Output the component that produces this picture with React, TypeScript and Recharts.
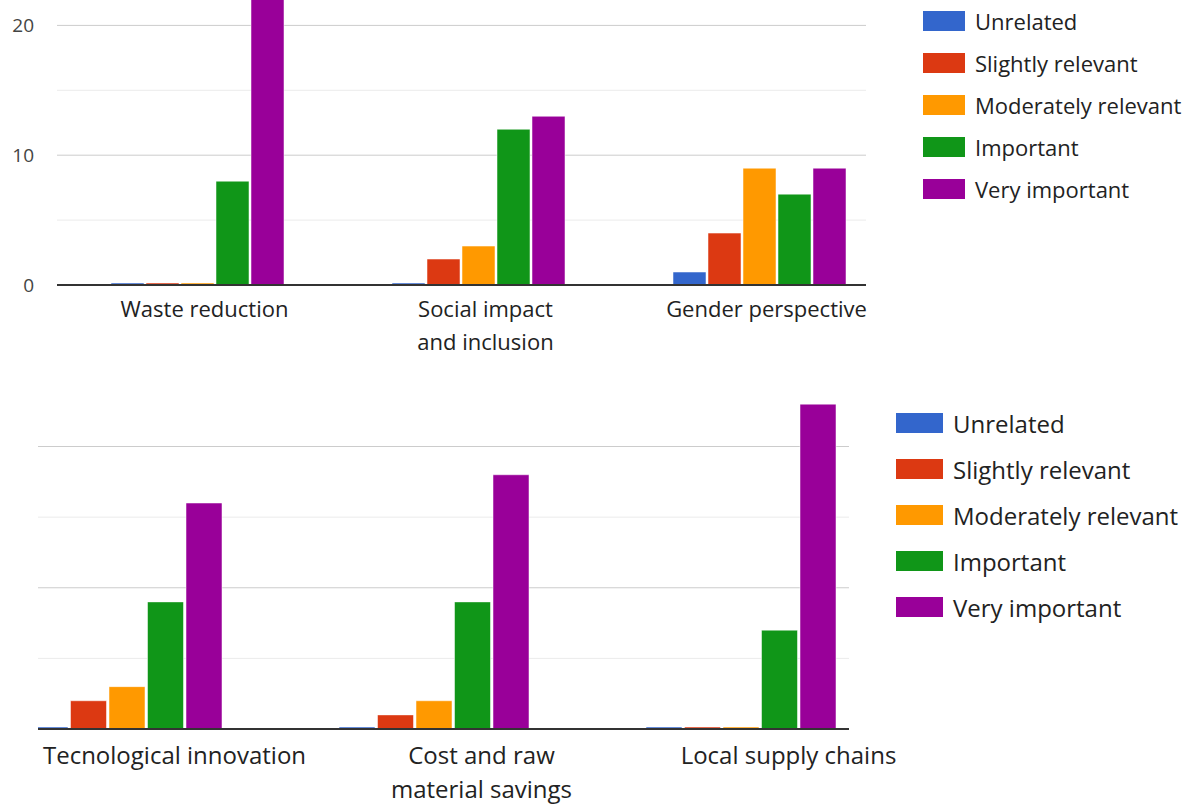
import { BarChart, Bar, XAxis, YAxis, CartesianGrid, Legend } from 'recharts';

// response levels shared by both charts
const levels = ['Unrelated', 'Slightly relevant', 'Moderately relevant', 'Important', 'Very important'];
const levelKeys = ['unrelated', 'slightly', 'moderately', 'important', 'veryImportant'];
const levelColors = ['#3366cc', '#dc3912', '#ff9900', '#109618', '#990099'];

// upper chart
const topCategories = ['Waste reduction', 'Social impact and inclusion', 'Gender perspective'];
const topTickLines = [['Waste reduction'], ['Social impact', 'and inclusion'], ['Gender perspective']];
const topUnrelated = [0, 0, 1];
const topSlightly = [0, 2, 4];
const topModerately = [0, 3, 9];
const topImportant = [8, 12, 7];
const topVeryImportant = [22, 13, 9];

// lower chart
const bottomCategories = ['Tecnological innovation', 'Cost and raw material savings', 'Local supply chains'];
const bottomTickLines = [['Tecnological innovation'], ['Cost and raw', 'material savings'], ['Local supply chains']];
const bottomUnrelated = [0, 0, 0];
const bottomSlightly = [2, 1, 0];
const bottomModerately = [3, 2, 0];
const bottomImportant = [9, 9, 7];
const bottomVeryImportant = [16, 18, 23];

const yTickLabels = [0, 10, 20];
const majorLines = [10, 20];
const minorLines = [5, 15];

const FONT = '"Open Sans", "DejaVu Sans", sans-serif';

const buildRows = (cats: string[], series: number[][]) =>
  cats.map((name, i) => {
    const row: Record<string, string | number> = { name };
    levelKeys.forEach((k, j) => {
      row[k] = series[j][i];
    });
    return row;
  });

const topData = buildRows(topCategories, [topUnrelated, topSlightly, topModerately, topImportant, topVeryImportant]);
const bottomData = buildRows(bottomCategories, [
  bottomUnrelated,
  bottomSlightly,
  bottomModerately,
  bottomImportant,
  bottomVeryImportant,
]);

const makeTick = (cats: string[], lines: string[][], dx: number, dy: number, fontSize: number, lineGap: number) =>
  (props: any) => {
    const { x, y, payload } = props;
    const idx = cats.indexOf(payload.value);
    const rows = idx >= 0 ? lines[idx] : [String(payload.value)];
    return (
      <text x={x + dx} y={y + dy} textAnchor="middle" fontFamily={FONT} fontSize={fontSize} fill="#222">
        {rows.map((r, i) => (
          <tspan key={i} x={x + dx} dy={i === 0 ? 0 : lineGap}>
            {r}
          </tspan>
        ))}
      </text>
    );
  };

// legend keeps the series order rather than the sorted payload
const makeLegend = (rowHeight: number, swatchW: number, padLeft: number, padTop: number, fontSize: number) => () => (
  <div
    style={{
      background: '#fff',
      width: '100%',
      height: '100%',
      boxSizing: 'border-box',
      paddingLeft: padLeft,
      paddingTop: padTop,
      fontFamily: FONT,
      fontSize,
      color: '#222',
    }}
  >
    {levels.map((label, i) => (
      <div key={label} style={{ height: rowHeight, display: 'flex', alignItems: 'center' }}>
        <span style={{ width: swatchW, height: 20, background: levelColors[i], marginRight: 10, flexShrink: 0 }} />
        <span style={{ whiteSpace: 'nowrap' }}>{label}</span>
      </div>
    ))}
  </div>
);

const renderBars = (barSize: number) =>
  levelKeys.map((k, i) => (
    <Bar
      key={k}
      dataKey={k}
      name={levels[i]}
      fill={levelColors[i]}
      stroke="#ffffff"
      strokeOpacity={0.5}
      strokeWidth={1}
      barSize={barSize}
      minPointSize={2}
      isAnimationActive={false}
    />
  ));

export default function App() {
  return (
    <div
      style={{
        position: 'fixed',
        left: 0,
        top: 0,
        width: 1197,
        height: 807,
        overflow: 'hidden',
        background: '#fff',
      }}
    >
      {/* upper chart, top edge runs above the page */}
      <div style={{ position: 'absolute', left: 0, top: -60 }}>
        <BarChart
          width={1197}
          height={420}
          data={topData}
          barGap={2}
          margin={{ top: 20.5, right: 297, left: 0, bottom: 0 }}
        >
          <CartesianGrid vertical={false} horizontalValues={minorLines} stroke="#ebebeb" />
          <CartesianGrid vertical={false} horizontalValues={majorLines} stroke="#cccccc" />
          <XAxis
            dataKey="name"
            interval={0}
            height={75}
            tickLine={false}
            tickSize={0}
            tickMargin={0}
            axisLine={{ stroke: '#333', strokeWidth: 2 }}
            tick={makeTick(topCategories, topTickLines, 7, 32, 22, 33)}
          />
          <YAxis
            type="number"
            domain={[0, 25]}
            ticks={yTickLabels}
            width={57}
            axisLine={false}
            tickLine={false}
            tickSize={0}
            tickMargin={23}
            tick={{ fontFamily: FONT, fontSize: 19, fill: '#444' }}
          />
          {renderBars(33)}
          <Legend
            layout="vertical"
            align="center"
            verticalAlign="middle"
            wrapperStyle={{ left: 866, top: 60, width: 331, height: 300, background: '#fff' }}
            content={makeLegend(42, 42, 57, 0, 22)}
          />
        </BarChart>
      </div>

      {/* lower chart, clipped on the left */}
      <div style={{ position: 'absolute', left: 38, top: 380, width: 1159, height: 427, overflow: 'hidden' }}>
        <div style={{ position: 'absolute', left: -65, top: 0 }}>
          <BarChart
            width={1224}
            height={427}
            data={bottomData}
            barGap={2.5}
            margin={{ top: 10, right: 303, left: 0, bottom: 0 }}
          >
            <CartesianGrid vertical={false} horizontalValues={minorLines} stroke="#ebebeb" />
            <CartesianGrid vertical={false} horizontalValues={majorLines} stroke="#cccccc" />
            <XAxis
              dataKey="name"
              interval={0}
              height={78}
              tickLine={false}
              tickSize={0}
              tickMargin={0}
              axisLine={{ stroke: '#333', strokeWidth: 2 }}
              tick={makeTick(bottomCategories, bottomTickLines, 48, 35, 24, 34)}
            />
            <YAxis type="number" domain={[0, 24]} hide />
            {renderBars(36)}
            <Legend
              layout="vertical"
              align="center"
              verticalAlign="middle"
              wrapperStyle={{ left: 876, top: 10, width: 348, height: 345, background: '#fff' }}
              content={makeLegend(46, 47, 47, 10, 24)}
            />
          </BarChart>
        </div>
      </div>
    </div>
  );
}
